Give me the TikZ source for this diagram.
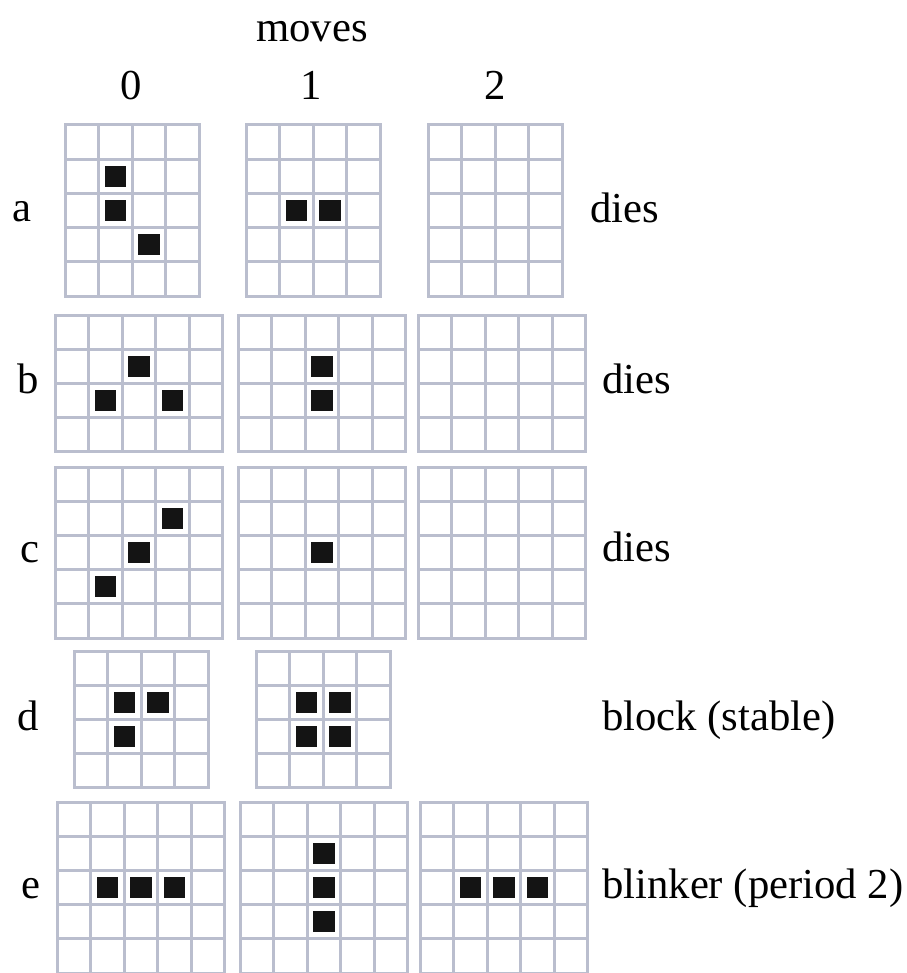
\documentclass[tikz,border=0pt]{standalone}
\usepackage{fontspec}
\setmainfont{Liberation Serif}
\usetikzlibrary{positioning}

\definecolor{gridgray}{RGB}{186,190,206}
\newcommand{\cellw}{33.5}
\newcommand{\cellh}{34.2}
\newcommand{\lifegrid}[4]{%
  \foreach \i in {0,...,#3}
    {\draw[gridline] ({#1+\i*\cellw},#2) -- ({#1+\i*\cellw},{#2+#4*\cellh});}
  \foreach \j in {0,...,#4}
    {\draw[gridline] (#1,{#2+\j*\cellh}) -- ({#1+#3*\cellw},{#2+\j*\cellh});}
}
\newcommand{\alive}[4]{%
  \fill[live] ({#1+(#3+0.5)*\cellw-10.75},{#2+(#4+0.5)*\cellh-10.75}) rectangle ++(21.5,21.5);
}

\begin{document}
\begin{tikzpicture}[
  x=1pt, y=-1pt,
  gridline/.style={line width=3pt, draw=gridgray, line cap=rect},
  live/.style={fill=black!92},
  lbl/.style={font=\fontsize{42.7}{50}\selectfont, inner sep=0pt, anchor=base},
  fate/.style={lbl, anchor=base west}
]
\useasboundingbox (0,0) rectangle (906,973);

\node[lbl] (moves) at (312,42) {moves};
\node[lbl] (m0) at (131,100) {0};
\node[lbl] (m1) at (311,100) {1};
\node[lbl] (m2) at (495,100) {2};

\node[lbl] (rowa) at (22,222) {a};
\node[lbl] (rowb) at (28,393) {b};
\node[lbl] (rowc) at (30,562) {c};
\node[lbl] (rowd) at (28,730) {d};
\node[lbl] (rowe) at (31,898) {e};

% row a
\lifegrid{65}{125}{4}{5}
\lifegrid{246}{125}{4}{5}
\lifegrid{428}{125}{4}{5}
\foreach \c/\r in {1/1,1/2,2/3} {\alive{65}{125}{\c}{\r}}
\foreach \c/\r in {1/2,2/2} {\alive{246}{125}{\c}{\r}}

% row b
\lifegrid{55}{315}{5}{4}
\lifegrid{238}{315}{5}{4}
\lifegrid{418}{315}{5}{4}
\foreach \c/\r in {2/1,1/2,3/2} {\alive{55}{315}{\c}{\r}}
\foreach \c/\r in {2/1,2/2} {\alive{238}{315}{\c}{\r}}

% row c
\lifegrid{55}{467}{5}{5}
\lifegrid{238}{467}{5}{5}
\lifegrid{418}{467}{5}{5}
\foreach \c/\r in {3/1,2/2,1/3} {\alive{55}{467}{\c}{\r}}
\alive{238}{467}{2}{2}

% row d
\lifegrid{74}{651}{4}{4}
\lifegrid{256}{651}{4}{4}
\foreach \c/\r in {1/1,2/1,1/2} {\alive{74}{651}{\c}{\r}}
\foreach \c/\r in {1/1,2/1,1/2,2/2} {\alive{256}{651}{\c}{\r}}

% row e
\lifegrid{57}{802}{5}{5}
\lifegrid{240}{802}{5}{5}
\lifegrid{420}{802}{5}{5}
\foreach \c/\r in {1/2,2/2,3/2} {\alive{57}{802}{\c}{\r}}
\foreach \c/\r in {2/1,2/2,2/3} {\alive{240}{802}{\c}{\r}}
\foreach \c/\r in {1/2,2/2,3/2} {\alive{420}{802}{\c}{\r}}

\node[fate] (fatea) at (590,223) {dies};
\node[fate] (fateb) at (602,393) {dies};
\node[fate] (fatec) at (602,561) {dies};
\node[fate] (fated) at (602,730) {block (stable)};
\node[fate] (fatee) at (602,898) {blinker (period 2)};
\end{tikzpicture}
\end{document}
